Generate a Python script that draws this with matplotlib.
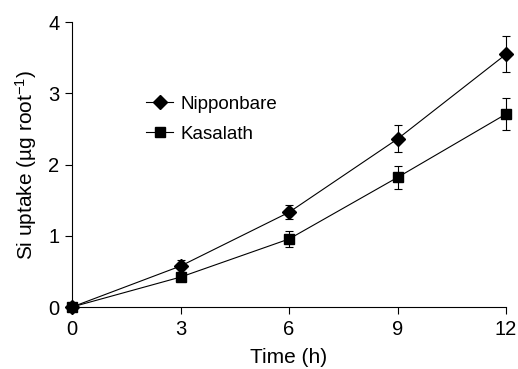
import numpy as np
import matplotlib
matplotlib.use('Agg')
import matplotlib.pyplot as plt
from matplotlib.lines import Line2D

plt.rcParams['font.family'] = ['Liberation Sans', 'DejaVu Sans']
plt.rcParams['mathtext.fontset'] = 'custom'
plt.rcParams['mathtext.rm'] = 'Liberation Sans'
plt.rcParams['mathtext.default'] = 'regular'

time_h = [0, 3, 6, 9, 12]
nipponbare = [0.0, 0.575, 1.33, 2.36, 3.55]
nipponbare_err = [0.0, 0.09, 0.10, 0.19, 0.25]
kasalath = [0.0, 0.42, 0.955, 1.82, 2.71]
kasalath_err = [0.0, 0.03, 0.11, 0.16, 0.23]

fig = plt.figure(figsize=(5.18, 3.69), dpi=100)
ax = fig.add_axes([0.139, 0.168, 0.838, 0.772])

eb1 = ax.errorbar(time_h, nipponbare, yerr=nipponbare_err, color='black', lw=0.8,
                  marker='D', ms=7, capsize=3, elinewidth=0.8, capthick=0.8)
eb2 = ax.errorbar(time_h, kasalath, yerr=kasalath_err, color='black', lw=0.8,
                  marker='s', ms=7.5, capsize=3, elinewidth=0.8, capthick=0.8)

ax.set_xlim(0, 12)
ax.set_ylim(0, 4)
ax.set_xticks([0, 3, 6, 9, 12])
ax.set_yticks([0, 1, 2, 3, 4])
ax.spines['top'].set_visible(False)
ax.spines['right'].set_visible(False)
ax.spines['left'].set_linewidth(0.8)
ax.spines['bottom'].set_linewidth(0.8)
ax.tick_params(direction='out', length=5, width=0.8, labelsize=14.5, pad=4)
for child in ax.get_children():
    child.set_clip_on(False)

ax.set_xlabel('Time (h)', fontsize=15, labelpad=7)
ax.set_ylabel('Si uptake (µg root$^{-1}$)', fontsize=15, labelpad=7)

handles = [Line2D([], [], color='black', lw=0.8, marker='D', ms=7),
           Line2D([], [], color='black', lw=0.8, marker='s', ms=7.5)]
ax.legend(handles, ['Nipponbare', 'Kasalath'], loc='upper left',
          bbox_to_anchor=(0.15, 0.775), frameon=False,
          fontsize=13.5, handlelength=1.4, handletextpad=0.4,
          labelspacing=0.7, borderpad=0)

plt.savefig('out.png', dpi=100)
